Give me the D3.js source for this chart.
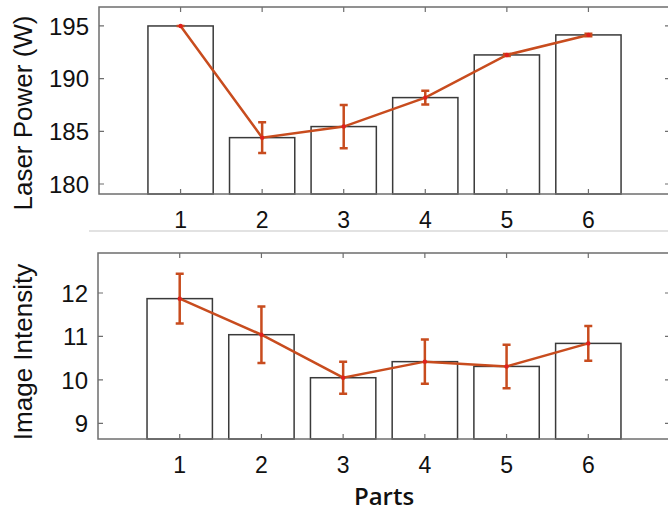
<!DOCTYPE html>
<html>
<head>
<meta charset="utf-8">
<script src="https://cdn.jsdelivr.net/npm/d3@7"></script>
<style>
  body { margin: 0; background: #fff; }
  svg text { font-family: "Liberation Sans", Arial, sans-serif; fill: #111; }
</style>
</head>
<body>
<div id="chart"></div>
<script>
// data
const parts = [1, 2, 3, 4, 5, 6];
const powerMean = [195.0, 184.4, 185.45, 188.2, 192.25, 194.15];
const powerErr = [0.0, 1.45, 2.05, 0.65, 0.1, 0.12];
const intensityMean = [11.87, 11.04, 10.05, 10.42, 10.31, 10.84];
const intensityErr = [0.57, 0.65, 0.37, 0.51, 0.5, 0.4];
const powerTicks = [180, 185, 190, 195];
const intensityTicks = [9, 10, 11, 12];

const width = 668;
const height = 514;

const svg = d3.select('#chart')
    .append('svg')
    .attr('width', width)
    .attr('height', height);

// thin grey rule between the two panels
svg.append('line')
    .attr('x1', 89).attr('x2', width)
    .attr('y1', 231).attr('y2', 231)
    .attr('stroke', '#e2e2e2')
    .attr('stroke-width', 2);

function panel(opts) {
    const x = d3.scaleLinear().domain([0, 7]).range([opts.left, 670]);
    const y = d3.scaleLinear().domain(opts.domain).range([opts.bottom, opts.top]);
    const g = svg.append('g');
    const bw = x(0.8) - x(0);

    // bars
    g.selectAll('.bar')
        .data(parts)
        .enter()
        .append('rect')
        .attr('x', (d) => x(d) - bw / 2)
        .attr('y', (d, i) => y(opts.mean[i]))
        .attr('width', bw)
        .attr('height', (d, i) => opts.bottom - y(opts.mean[i]))
        .attr('fill', '#fff')
        .attr('stroke', '#3a3a3a')
        .attr('stroke-width', 1.5);

    // frame
    g.append('rect')
        .attr('x', opts.left)
        .attr('y', opts.top)
        .attr('width', 670 - opts.left)
        .attr('height', opts.bottom - opts.top)
        .attr('fill', 'none')
        .attr('stroke', '#6e6e6e')
        .attr('stroke-width', 1.5);

    // ticks: x on top and bottom, y on left and right, all pointing in
    const tk = 5;
    g.selectAll('.xt')
        .data(parts)
        .enter()
        .append('path')
        .attr('d', (d) => `M${x(d)},${opts.top}v${tk}M${x(d)},${opts.bottom}v${-tk}`)
        .attr('stroke', '#6e6e6e')
        .attr('stroke-width', 1.2);
    g.selectAll('.yt')
        .data(opts.ticks)
        .enter()
        .append('path')
        .attr('d', (d) => `M${opts.left},${y(d)}h${tk}M670,${y(d)}h${-tk}`)
        .attr('stroke', '#6e6e6e')
        .attr('stroke-width', 1.2);

    // tick labels
    g.selectAll('.xl')
        .data(parts)
        .enter()
        .append('text')
        .attr('x', (d) => x(d))
        .attr('y', opts.bottom + 34)
        .attr('text-anchor', 'middle')
        .style('font-size', '23px')
        .text((d) => d);
    g.selectAll('.yl')
        .data(opts.ticks)
        .enter()
        .append('text')
        .attr('x', opts.left - 10)
        .attr('y', (d) => y(d))
        .attr('dy', '0.36em')
        .attr('text-anchor', 'end')
        .style('font-size', '24px')
        .text((d) => d);

    // y label
    g.append('text')
        .attr('transform', `translate(32,${opts.labelY}) rotate(-90)`)
        .attr('text-anchor', 'middle')
        .style('font-size', '26px')
        .text(opts.label);

    // line through the means
    const line = d3.line()
        .x((d) => x(d))
        .y((d, i) => y(opts.mean[i]));
    const red = '#c84c1e';
    g.append('path')
        .datum(parts)
        .attr('fill', 'none')
        .attr('stroke', red)
        .attr('stroke-width', 2.5)
        .attr('d', line);

    // error bars
    const cap = 4;
    g.selectAll('.err')
        .data(parts)
        .enter()
        .append('path')
        .attr('d', (d, i) => {
            const hi = y(opts.mean[i] + opts.err[i]);
            const lo = y(opts.mean[i] - opts.err[i]);
            return `M${x(d)},${hi}V${lo}M${x(d) - cap},${hi}h${cap * 2}M${x(d) - cap},${lo}h${cap * 2}`;
        })
        .attr('fill', 'none')
        .attr('stroke', red)
        .attr('stroke-width', 2.5);

    g.selectAll('.pt')
        .data(parts)
        .enter()
        .append('circle')
        .attr('cx', (d) => x(d))
        .attr('cy', (d, i) => y(opts.mean[i]))
        .attr('r', 2.2)
        .attr('fill', '#e0201c');
}

panel({
    left: 99, top: 7, bottom: 194,
    domain: [179.05, 196.8],
    mean: powerMean, err: powerErr, ticks: powerTicks,
    label: 'Laser Power (W)', labelY: 113,
});

panel({
    left: 98, top: 253, bottom: 439,
    domain: [8.64, 12.92],
    mean: intensityMean, err: intensityErr, ticks: intensityTicks,
    label: 'Image Intensity', labelY: 352,
});

// x label
svg.append('text')
    .attr('x', 384)
    .attr('y', 505)
    .attr('text-anchor', 'middle')
    .style('font-family', '"Open Sans", sans-serif')
    .style('font-weight', 600)
    .style('font-size', '24px')
    .text('Parts');
</script>
</body>
</html>
